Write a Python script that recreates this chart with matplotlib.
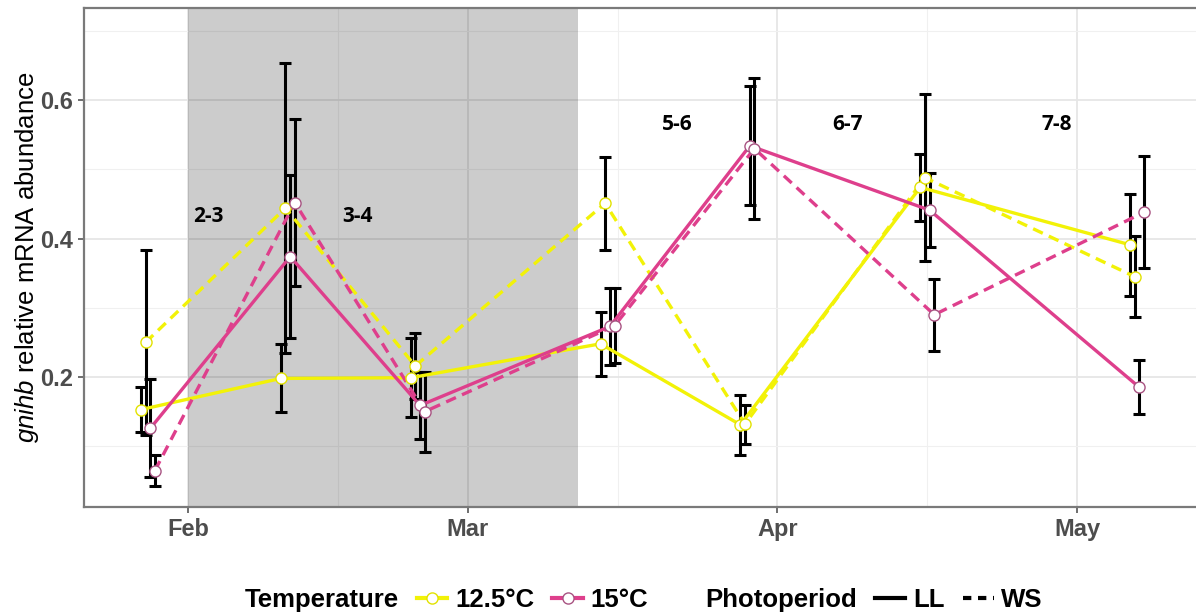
import matplotlib
matplotlib.use('Agg')
import matplotlib.pyplot as plt
import matplotlib.dates as mdates
from matplotlib.lines import Line2D
import numpy as np

# sampling dates (one per group) and values
sample_dates = ['2019-01-28', '2019-02-11', '2019-02-24', '2019-03-15',
                '2019-03-29', '2019-04-16', '2019-05-07']

mean_125_LL = [0.153, 0.198, 0.199, 0.248, 0.131, 0.474, 0.391]
se_125_LL = [0.032, 0.049, 0.057, 0.046, 0.043, 0.048, 0.074]
mean_125_WS = [0.250, 0.444, 0.216, 0.451, 0.132, 0.488, 0.345]
se_125_WS = [0.134, 0.210, 0.047, 0.067, 0.028, 0.121, 0.058]
mean_15_LL = [0.126, 0.374, 0.159, 0.273, 0.534, 0.441, 0.185]
se_15_LL = [0.071, 0.118, 0.049, 0.055, 0.086, 0.053, 0.039]
mean_15_WS = [0.065, 0.452, 0.150, 0.274, 0.530, 0.290, 0.438]
se_15_WS = [0.022, 0.121, 0.058, 0.054, 0.102, 0.052, 0.081]

# stage labels
stage_labels = ['2-3', '3-4', '5-6', '6-7', '7-8']
stage_dates = ['2019-02-03', '2019-02-18', '2019-03-22', '2019-04-08', '2019-04-29']
stage_y = [0.432, 0.432, 0.565, 0.565, 0.565]

# winter-solstice shading
shade_start, shade_end = '2019-02-01', '2019-03-12'

YELLOW = '#F2F207'
PINK = '#DE3F8C'

plt.rcParams['font.family'] = ['Liberation Sans', 'DejaVu Sans']
plt.rcParams['mathtext.fontset'] = 'custom'
plt.rcParams['mathtext.it'] = 'Liberation Sans:italic'
plt.rcParams['mathtext.rm'] = 'Liberation Sans'

fig = plt.figure(figsize=(11.96, 6.15), dpi=100)
ax = fig.add_axes([84 / 1196, 108 / 615, (1210 - 84) / 1196, 499 / 615])

base = mdates.datestr2num(sample_dates)
series = [
    (mean_125_LL, se_125_LL, YELLOW, '#E2E200', 'solid', -0.7),
    (mean_125_WS, se_125_WS, YELLOW, '#E2E200', 'dashed', -0.24),
    (mean_15_LL, se_15_LL, PINK, '#A85382', 'solid', 0.24),
    (mean_15_WS, se_15_WS, PINK, '#A85382', 'dashed', 0.7),
]

for mean, se, col, edge, ls, dodge in series:
    x = base + dodge
    ax.errorbar(x, mean, yerr=se, fmt='none', ecolor='black', elinewidth=2.2,
                capsize=4, capthick=2.2, zorder=3)
    if ls == 'solid':
        ax.plot(x, mean, color=col, lw=2.4, zorder=4, solid_capstyle='butt')
    else:
        ax.plot(x, mean, color=col, lw=2.4, dashes=(3.2, 2.0), zorder=4)
    ax.plot(x, mean, 'o', ms=8, mfc='white', mec=edge, mew=1.0, zorder=5)

ax.axvspan(mdates.datestr2num(shade_start), mdates.datestr2num(shade_end),
           color='black', alpha=0.2, lw=0, zorder=1)

for lab, d, y in zip(stage_labels, stage_dates, stage_y):
    ax.text(mdates.datestr2num(d), y, lab, ha='center', va='center',
            fontsize=15, fontweight='bold', family='Open Sans', zorder=6)

# axes
feb1 = mdates.datestr2num('2019-02-01')
ax.set_xlim(feb1 - 10.4, feb1 + 102.3)
ax.set_ylim(0.0123, 0.733)
ax.xaxis.set_major_locator(mdates.MonthLocator())
ax.xaxis.set_major_formatter(mdates.DateFormatter('%b'))
ax.xaxis.set_minor_locator(mdates.MonthLocator(bymonthday=16))
ax.set_yticks([0.2, 0.4, 0.6])
ax.set_yticks([0.1, 0.3, 0.5, 0.7], minor=True)
ax.set_yticklabels(['0.2', '0.4', '0.6'])

ax.set_axisbelow(True)
ax.grid(which='major', color='#E6E6E6', lw=1.3)
ax.grid(which='minor', color='#F0F0F0', lw=0.8)

for s in ax.spines.values():
    s.set_color('#7A7A7A')
    s.set_linewidth(1.6)

ax.tick_params(axis='both', which='major', length=4, width=1.2, color='#555555',
               labelsize=17, labelcolor='#4D4D4D', pad=4)
ax.tick_params(axis='both', which='minor', length=0)
for t in ax.get_xticklabels() + ax.get_yticklabels():
    t.set_fontweight('bold')

ax.set_ylabel(r'$\it{gnihb}$ relative mRNA abundance', fontsize=18.5, color='black', labelpad=-1)

# legend
h_title = Line2D([], [], color='none')
h_125 = Line2D([], [], color=YELLOW, lw=3, marker='o', ms=8, mfc='white', mec='#E2E200')
h_15 = Line2D([], [], color=PINK, lw=3, marker='o', ms=8, mfc='white', mec='#A85382')
h_ll = Line2D([], [], color='black', lw=3)
h_ws = Line2D([], [], color='black', lw=3, dashes=(2, 1.6))
fig.legend([h_title, h_125, h_15, h_title, h_ll, h_ws],
           ['Temperature', '12.5°C', '15°C', 'Photoperiod', 'LL', 'WS'],
           loc='center', bbox_to_anchor=(0.522, 0.025), ncol=6, frameon=False,
           prop=dict(family='Liberation Sans', weight='bold', size=18.5),
           handlelength=1.2, handletextpad=0.3, columnspacing=0.7)

fig.savefig('out.png', dpi=100)
